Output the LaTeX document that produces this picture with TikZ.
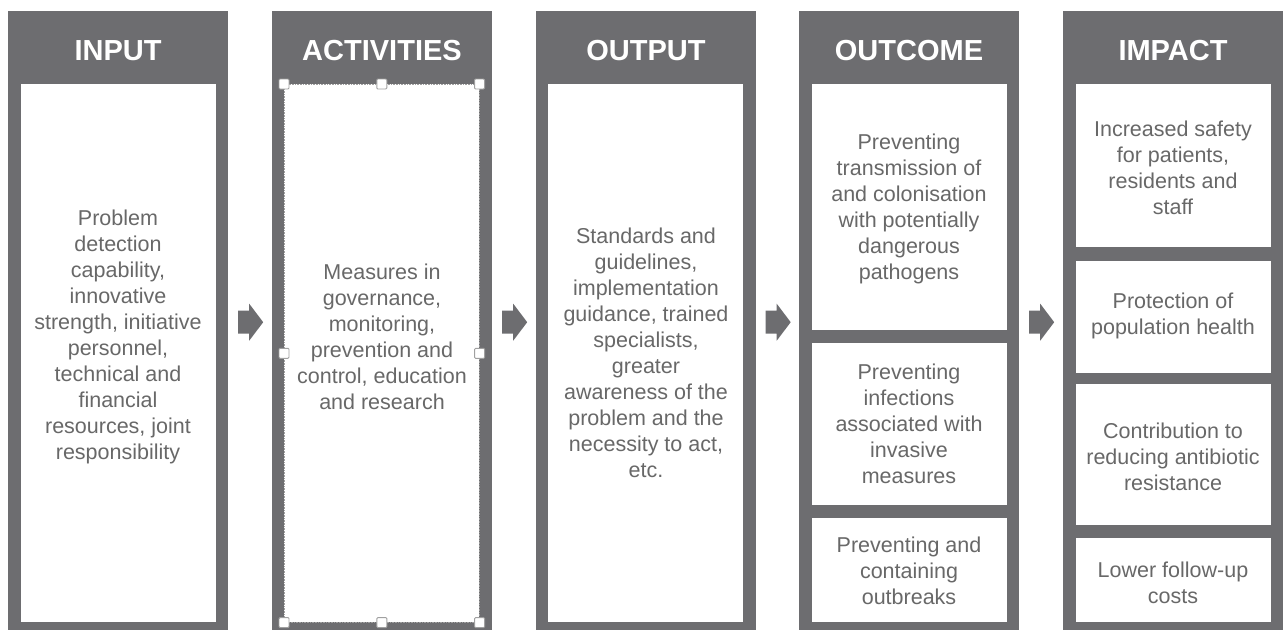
\documentclass[tikz,border=0pt]{standalone}
\usepackage{fontspec}
\setmainfont{Liberation Sans}
\usetikzlibrary{calc}
\definecolor{panelgray}{HTML}{6D6D70}
\definecolor{bodytext}{HTML}{686868}
\definecolor{handleedge}{HTML}{A0A0A0}

\begin{document}
\begin{tikzpicture}[x=1pt,y=-1pt,
  panel/.style={fill=panelgray, draw=none, inner sep=0pt, anchor=north west,
                minimum width=220pt, minimum height=619pt},
  card/.style={fill=white, draw=none, inner sep=0pt, anchor=north west,
               minimum width=195pt},
  headtext/.style={font=\fontsize{29}{32}\selectfont\bfseries, text=white},
  bodytxt/.style={font=\fontsize{21.5}{26}\selectfont, text=bodytext, align=center},
  handle/.style={fill=white, draw=handleedge, line width=0.9pt, minimum size=10pt,
                 inner sep=0pt, rounded corners=1pt},
  blockarrow/.style={fill=panelgray},
]
\useasboundingbox (0,0) rectangle (1285,630);

% column panels
\node[panel] (p1) at (8,11) {};
\node[panel] (p2) at (272,11) {};
\node[panel] (p3) at (536,11) {};
\node[panel] (p4) at (799,11) {};
\node[panel] (p5) at (1063,11) {};

% column headings
\node[headtext] (h1) at (118,51) {INPUT};
\node[headtext] (h2) at (382,51) {ACTIVITIES};
\node[headtext] (h3) at (646,51) {OUTPUT};
\node[headtext] (h4) at (909,51) {OUTCOME};
\node[headtext] (h5) at (1173,51) {IMPACT};

% INPUT
\node[card, minimum height=538pt] (i1) at (21,84) {};
\node[bodytxt] (ti1) at (118,337) {Problem\\detection\\capability,\\innovative\\strength, initiative\\personnel,\\technical and\\financial\\resources, joint\\responsibility};

% ACTIVITIES (selected frame)
\node[card, minimum height=538pt, draw=handleedge, densely dotted, line width=0.6pt] (a1) at (284,84) {};
\node[bodytxt] (ta1) at (382,337) {Measures in\\governance,\\monitoring,\\prevention and\\control, education\\and research};
\foreach \an in {north west,north,north east,west,east,south west,south,south east}
  \node[handle] at (a1.\an) {};

% OUTPUT
\node[card, minimum height=538pt] (o1) at (548,84) {};
\node[bodytxt] (to1) at (646,353) {Standards and\\guidelines,\\implementation\\guidance, trained\\specialists,\\greater\\awareness of the\\problem and the\\necessity to act,\\etc.};

% OUTCOME
\node[card, minimum height=246pt] (c1) at (812,84) {};
\node[card, minimum height=162pt] (c2) at (812,343) {};
\node[card, minimum height=104pt] (c3) at (812,518) {};
\node[bodytxt] (tc1) at (909,209) {Preventing\\transmission of\\and colonisation\\with potentially\\dangerous\\pathogens};
\node[bodytxt] (tc2) at (909,424) {Preventing\\infections\\associated with\\invasive\\measures};
\node[bodytxt] (tc3) at (909,571) {Preventing and\\containing\\outbreaks};

% IMPACT
\node[card, minimum height=163pt] (m1) at (1076,84) {};
\node[card, minimum height=112pt] (m2) at (1076,261) {};
\node[card, minimum height=141pt] (m3) at (1076,384) {};
\node[card, minimum height=84pt] (m4) at (1076,538) {};
\node[bodytxt] (tm1) at (1173,168) {Increased safety\\for patients,\\residents and\\staff};
\node[bodytxt] (tm2) at (1173,316) {Protection of\\population health};
\node[bodytxt] (tm3) at (1173,457) {Contribution to\\reducing antibiotic\\resistance};
\node[bodytxt] (tm4) at (1173,583) {Lower follow-up\\costs};

% block arrows between the columns
\foreach \a/\b in {p1/p2,p2/p3,p3/p4,p4/p5}{
  \coordinate (mid) at ($(\a.east)!0.5!(\b.west)+(0.5,1.5)$);
  \fill[blockarrow] ($(mid)+(-12.5,-11.5)$) -- ++(11,0) -- ++(0,-7) -- ++(14,18.5)
        -- ++(-14,18.5) -- ++(0,-7) -- ++(-11,0) -- cycle;
}
\end{tikzpicture}
\end{document}
